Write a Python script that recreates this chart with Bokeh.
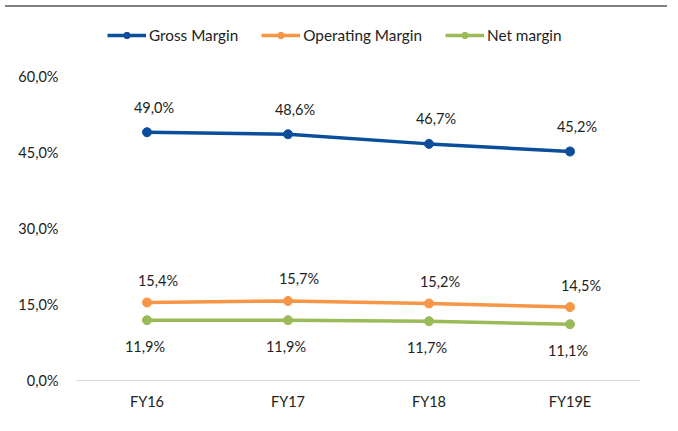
from bokeh.plotting import figure
from bokeh.models import (FactorRange, Range1d, FixedTicker, CustomJSTickFormatter,
                          Legend, LegendItem, ColumnDataSource, Div)
from bokeh.layouts import column
from bokeh.core.properties import value
from bokeh.embed import file_html
from bokeh.resources import INLINE

categories = ["FY16", "FY17", "FY18", "FY19E"]
gross_margin = [49.0, 48.6, 46.7, 45.2]
operating_margin = [15.4, 15.7, 15.2, 14.5]
net_margin = [11.9, 11.9, 11.7, 11.1]
y_ticks = [0, 15, 30, 45, 60]
series_names = ["Gross Margin", "Operating Margin", "Net margin"]

FONT = "Lato"
FS = "14.5px"
LEG_FS = "15.3px"
TEXT = "#222222"


def fmt(v):
    return f"{v:.1f}".replace(".", ",") + "%"


p = figure(x_range=FactorRange(*categories), y_range=Range1d(0, 71.05),
           width=662, height=413, output_backend="svg", toolbar_location=None,
           min_border_left=76, min_border_right=22, min_border_top=8,
           min_border_bottom=45)
p.outline_line_color = None
p.background_fill_color = "white"
p.border_fill_color = "white"
p.xgrid.visible = False
p.ygrid.visible = False

# y axis
p.yaxis.ticker = FixedTicker(ticks=y_ticks)
p.yaxis.formatter = CustomJSTickFormatter(code="return tick.toFixed(1).replace('.', ',') + '%';")
p.yaxis.axis_line_color = None
p.yaxis.major_tick_line_color = None
p.yaxis.minor_tick_line_color = None
p.yaxis.major_tick_in = 0
p.yaxis.major_tick_out = 0
p.yaxis.major_label_standoff = 18
p.yaxis.major_label_text_font = FONT
p.yaxis.major_label_text_font_size = FS
p.yaxis.major_label_text_color = TEXT

# x axis
p.xaxis.axis_line_color = "#d9d9d9"
p.xaxis.axis_line_width = 1
p.xaxis.major_tick_line_color = None
p.xaxis.minor_tick_line_color = None
p.xaxis.major_tick_in = 0
p.xaxis.major_tick_out = 0
p.xaxis.major_label_standoff = 12
p.xaxis.major_label_text_font = FONT
p.xaxis.major_label_text_font_size = FS
p.xaxis.major_label_text_color = TEXT

series = [
    (series_names[0], gross_margin, "#0B4E9B", 7, -25),
    (series_names[1], operating_margin, "#F79646", 11, -22),
    (series_names[2], net_margin, "#9BBB59", -2, 26),
]

items = []
for name, vals, color, xo, yo in series:
    src = ColumnDataSource(dict(x=categories, y=vals, label=[fmt(v) for v in vals]))
    r1 = p.line("x", "y", source=src, line_color=color, line_width=3.5)
    r2 = p.scatter("x", "y", source=src, size=9, fill_color=color, line_color=color)
    p.text("x", "y", text="label", source=src, x_offset=xo, y_offset=yo,
           text_align="center", text_baseline="middle",
           text_font=value(FONT), text_font_size=FS, text_color=TEXT)
    items.append(LegendItem(label=name, renderers=[r1, r2]))

legend = Legend(items=items, orientation="horizontal", location=(31, 336),
                glyph_width=39, glyph_height=16, label_height=16,
                label_standoff=3, spacing=23, padding=0, margin=0,
                border_line_color=None, background_fill_alpha=0,
                label_text_font=FONT, label_text_font_size=LEG_FS,
                label_text_color=TEXT)
p.add_layout(legend)

top_rule = Div(text="", width=662, height=2,
               styles={"background-color": "#808080"})

layout = column(top_rule, p, spacing=0)

open("out.html", "w").write(file_html(layout, INLINE))
